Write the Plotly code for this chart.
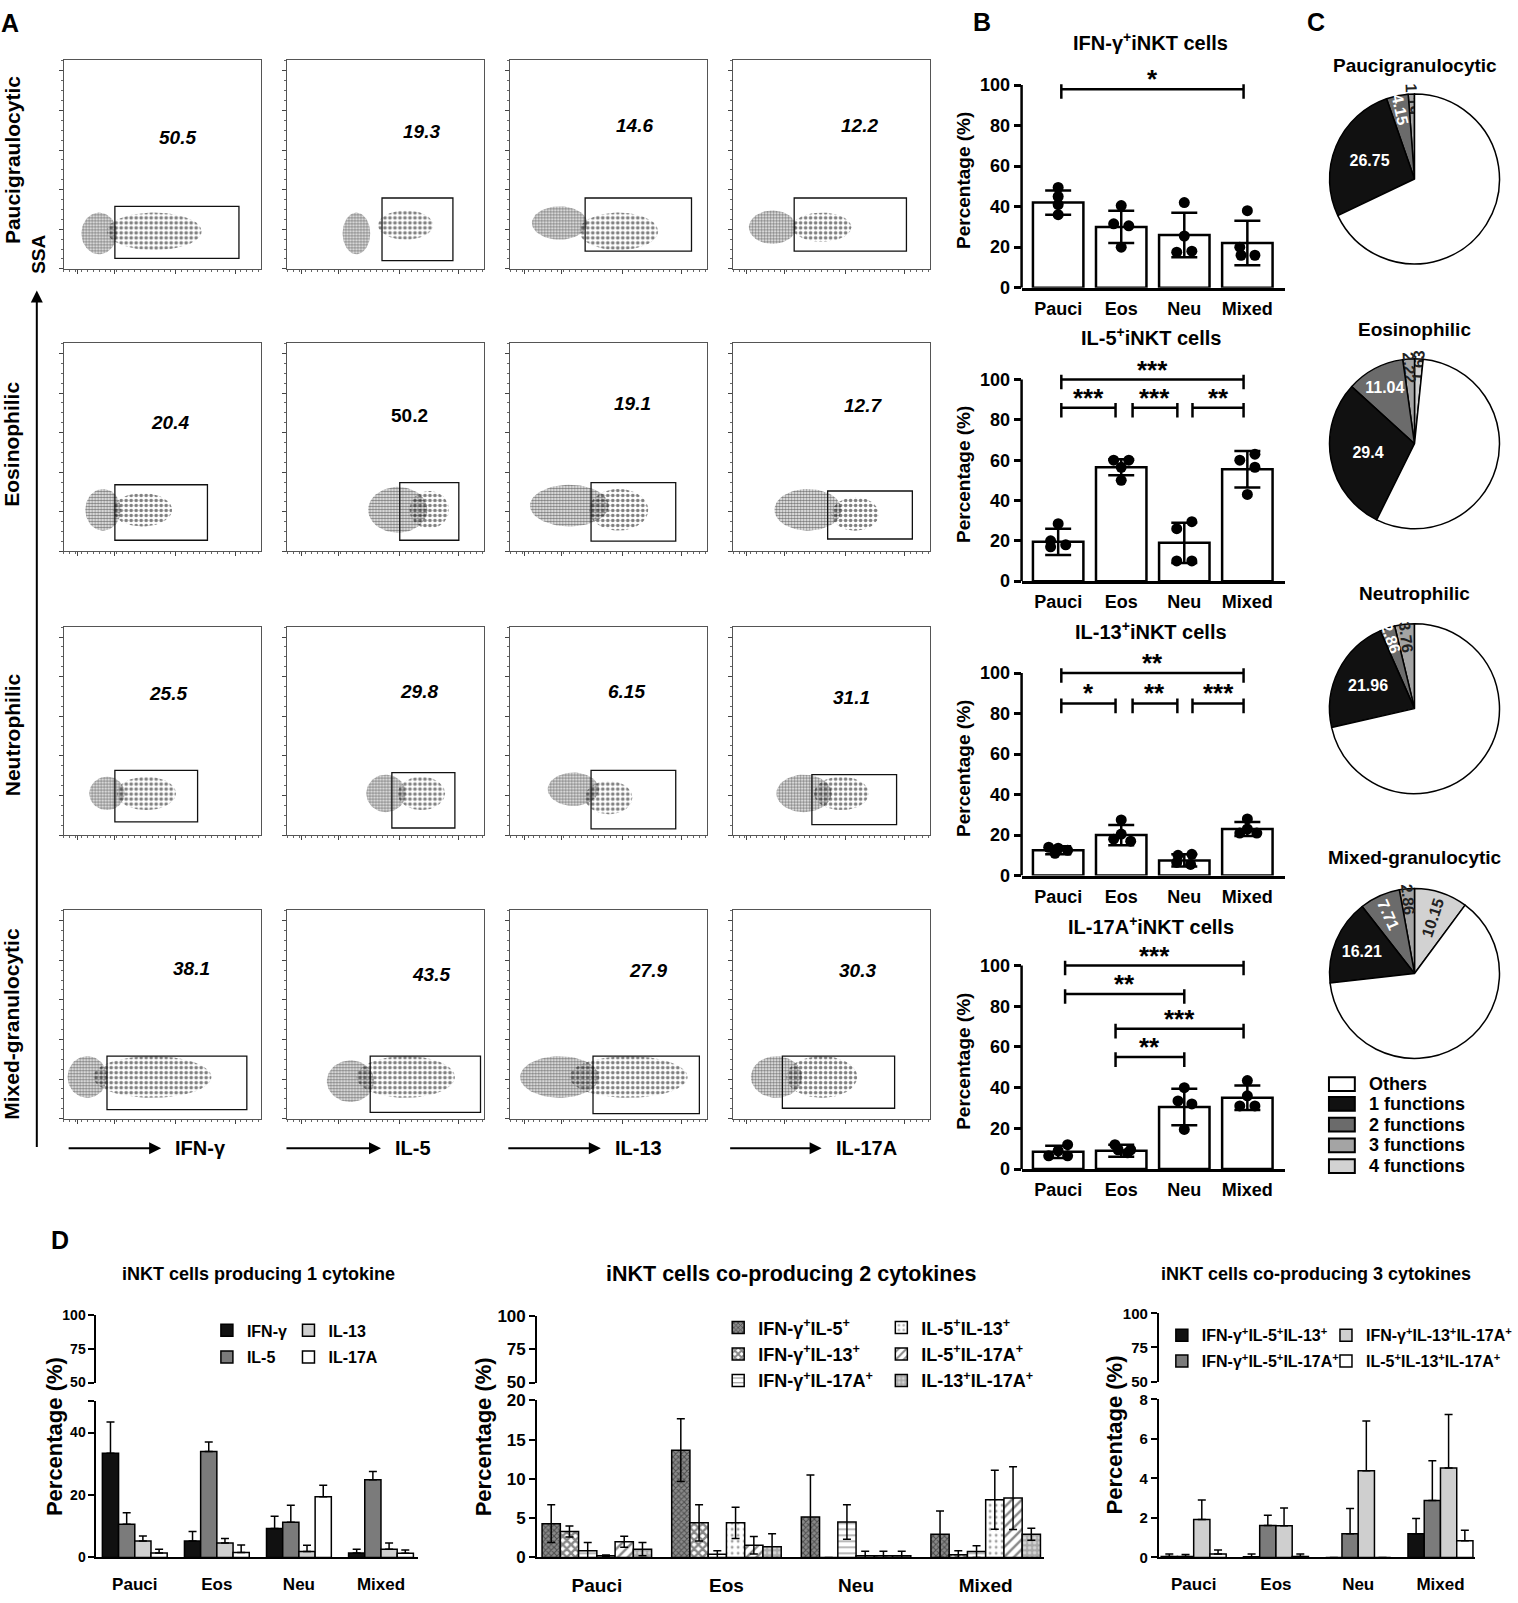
import numpy as np
import plotly.graph_objects as go

W, H = 1518, 1603
FONT = "Liberation Sans, Arial, sans-serif"

# ======================= DATA =======================
groups = ["Pauci", "Eos", "Neu", "Mixed"]

# ---- Panel A : flow cytometry (fractions of each plot frame) ----
row_names = ["Paucigraulocytic", "Eosinophilic", "Neutrophilic", "Mixed-granulocytic"]
cytokines = ["IFN-γ", "IL-5", "IL-13", "IL-17A"]
gate_pct = [["50.5", "19.3", "14.6", "12.2"],
            ["20.4", "50.2", "19.1", "12.7"],
            ["25.5", "29.8", "6.15", "31.1"],
            ["38.1", "43.5", "27.9", "30.3"]]
gate_x0 = [[0.26, 0.48, 0.38, 0.31], [0.26, 0.57, 0.41, 0.48], [0.26, 0.53, 0.41, 0.40], [0.22, 0.42, 0.42, 0.25]]
gate_x1 = [[0.89, 0.84, 0.92, 0.88], [0.73, 0.87, 0.84, 0.91], [0.68, 0.85, 0.84, 0.83], [0.93, 0.98, 0.96, 0.82]]
gate_y0 = [[0.05, 0.04, 0.085, 0.085], [0.054, 0.054, 0.05, 0.06], [0.063, 0.034, 0.03, 0.05], [0.043, 0.03, 0.024, 0.05]]
gate_y1 = [[0.30, 0.34, 0.34, 0.34], [0.32, 0.33, 0.33, 0.29], [0.31, 0.30, 0.31, 0.29], [0.30, 0.30, 0.30, 0.30]]
pct_x = [[0.58, 0.68, 0.63, 0.64], [0.54, 0.62, 0.62, 0.66], [0.53, 0.67, 0.59, 0.60], [0.65, 0.73, 0.70, 0.63]]
pct_y = [[0.63, 0.66, 0.69, 0.69], [0.62, 0.65, 0.71, 0.70], [0.68, 0.69, 0.69, 0.66], [0.72, 0.69, 0.71, 0.71]]
# event clouds: (centre x, centre y, half width, half height)
cloud_core = [[(0.18, 0.17, 0.09, 0.10), (0.35, 0.17, 0.07, 0.10), (0.25, 0.22, 0.14, 0.08), (0.20, 0.20, 0.12, 0.08)],
              [(0.20, 0.20, 0.09, 0.10), (0.56, 0.20, 0.15, 0.11), (0.30, 0.22, 0.20, 0.10), (0.38, 0.20, 0.17, 0.10)],
              [(0.22, 0.20, 0.09, 0.08), (0.50, 0.20, 0.10, 0.09), (0.32, 0.22, 0.13, 0.08), (0.36, 0.20, 0.14, 0.09)],
              [(0.12, 0.20, 0.10, 0.10), (0.32, 0.18, 0.12, 0.10), (0.25, 0.20, 0.20, 0.10), (0.22, 0.20, 0.13, 0.10)]]
cloud_tail = [[(0.46, 0.18, 0.24, 0.09), (0.60, 0.21, 0.14, 0.07), (0.55, 0.18, 0.20, 0.09), (0.45, 0.20, 0.15, 0.07)],
              [(0.40, 0.20, 0.15, 0.08), (0.72, 0.20, 0.10, 0.09), (0.55, 0.20, 0.15, 0.10), (0.62, 0.18, 0.12, 0.08)],
              [(0.42, 0.20, 0.15, 0.08), (0.68, 0.20, 0.12, 0.08), (0.50, 0.18, 0.12, 0.08), (0.55, 0.20, 0.14, 0.08)],
              [(0.45, 0.20, 0.30, 0.10), (0.60, 0.20, 0.25, 0.10), (0.60, 0.20, 0.30, 0.10), (0.45, 0.20, 0.18, 0.10)]]

# ---- Panel B ----
b_titles = ["IFN-γ<sup>+</sup>iNKT cells", "IL-5<sup>+</sup>iNKT cells",
            "IL-13<sup>+</sup>iNKT cells", "IL-17A<sup>+</sup>iNKT cells"]
b_mean = [[42, 30, 26, 22], [19.5, 56.5, 19, 55.5], [12.5, 20, 7.5, 23], [8.5, 9, 30.5, 35]]
b_sd = [[6, 8, 11, 11], [6.5, 4, 10, 9], [2, 5, 3, 3.5], [3, 3, 9, 6]]
b_dots = [
    [[49.5, 45, 41, 36], [40.5, 31.5, 30.5, 20], [42, 25.5, 17.5, 18], [38, 20, 16, 16]],
    [[28.5, 20, 17, 18], [60, 60, 56.5, 50], [29.5, 26, 10, 10], [63, 60, 56.5, 43]],
    [[14, 13.5, 12.5, 11], [27.5, 20.5, 18, 17], [10.5, 10, 6.5, 5.5], [28, 23, 21, 21]],
    [[12, 9, 6.5, 6.5], [12, 9.5, 9.5, 8], [40, 33.5, 32, 19.5], [43.5, 36, 31, 31]],
]
b_jit = [
    [[0, 0, 0, 0], [0, -0.12, 0.12, 0], [0, 0, -0.12, 0.12], [0, -0.12, -0.1, 0.12]],
    [[0, -0.12, -0.12, 0.12], [-0.12, 0.12, 0, 0], [0.12, -0.12, -0.12, 0.12], [0.12, -0.12, 0.12, 0]],
    [[-0.15, 0.0, 0.15, -0.05], [0, 0, -0.12, 0.15], [0.12, -0.1, -0.12, 0.1], [0, 0, -0.12, 0.15]],
    [[0.15, 0, -0.15, 0.15], [-0.1, 0.15, -0.05, 0.1], [0, -0.1, 0.12, 0], [0, 0, -0.12, 0.12]],
]
b_br_x0 = [[0.05], [0.05, 0.05, 1.18, 2.13], [0.05, 0.05, 1.18, 2.13], [0.11, 0.11, 0.91, 0.91]]
b_br_x1 = [[2.94], [2.94, 0.91, 1.89, 2.94], [2.94, 0.91, 1.89, 2.94], [2.94, 2.0, 2.94, 2.0]]
b_br_y = [[98], [100, 86, 86, 86], [100, 85, 85, 85], [100, 86, 69, 55]]
b_br_lab = [["*"], ["***", "***", "***", "**"], ["**", "*", "**", "***"], ["***", "**", "***", "**"]]

# ---- Panel C ----
c_titles = ["Paucigranulocytic", "Eosinophilic", "Neutrophilic", "Mixed-granulocytic"]
c_labels = ["4 functions", "3 functions", "2 functions", "1 functions", "Others"]
c_values = [[0, 1.19, 4.15, 26.75, 67.91],
            [1.63, 2.22, 11.04, 29.4, 55.71],
            [0, 3.76, 2.86, 21.96, 71.42],
            [10.15, 2.86, 7.71, 16.21, 63.07]]
c_legend = ["Others", "1 functions", "2 functions", "3 functions", "4 functions"]

# ---- Panel D ----
d_titles = ["iNKT cells producing 1 cytokine", "iNKT cells co-producing 2 cytokines",
            "iNKT cells co-producing 3 cytokines"]
d1_names = ["IFN-γ", "IL-5", "IL-13", "IL-17A"]
d1_mean = [[33.4, 5.3, 9.3, 1.4], [10.6, 33.9, 11.3, 24.9], [5.3, 4.6, 1.9, 2.6], [1.4, 1.6, 19.4, 1.3]]
d1_sd = [[10.0, 3.0, 3.9, 1.2], [3.7, 3.1, 5.4, 2.6], [1.6, 1.5, 2.0, 2.0], [1.2, 2.4, 3.7, 1.1]]
d2_names = ["IFN-γ<sup>+</sup>IL-5<sup>+</sup>", "IFN-γ<sup>+</sup>IL-13<sup>+</sup>",
            "IFN-γ<sup>+</sup>IL-17A<sup>+</sup>", "IL-5<sup>+</sup>IL-13<sup>+</sup>",
            "IL-5<sup>+</sup>IL-17A<sup>+</sup>", "IL-13<sup>+</sup>IL-17A<sup>+</sup>"]
d2_mean = [[4.3, 13.65, 5.15, 2.95], [3.3, 4.4, 0.0, 0.35], [0.85, 0.4, 4.5, 0.75],
           [0.2, 4.4, 0.2, 7.35], [2.0, 1.55, 0.2, 7.55], [1.05, 1.35, 0.2, 2.95]]
d2_sd = [[2.4, 4.0, 5.35, 2.95], [0.7, 2.3, 0.0, 0.5], [1.05, 0.45, 2.2, 0.75],
         [0.1, 2.0, 0.6, 3.75], [0.7, 1.1, 0.6, 4.0], [0.85, 1.65, 0.6, 0.75]]
d3_names = ["IFN-γ<sup>+</sup>IL-5<sup>+</sup>IL-13<sup>+</sup>", "IFN-γ<sup>+</sup>IL-5<sup>+</sup>IL-17A<sup>+</sup>",
            "IFN-γ<sup>+</sup>IL-13<sup>+</sup>IL-17A<sup>+</sup>", "IL-5<sup>+</sup>IL-13<sup>+</sup>IL-17A<sup>+</sup>"]
d3_mean = [[0.05, 0.03, 0.0, 1.2], [0.05, 1.62, 1.2, 2.88], [1.92, 1.6, 4.38, 4.52], [0.17, 0.05, 0.0, 0.84]]
d3_sd = [[0.12, 0.14, 0.0, 0.77], [0.1, 0.52, 1.28, 2.01], [0.98, 0.9, 2.52, 2.71], [0.21, 0.12, 0.0, 0.53]]

# ======================= FIGURE =======================
fig = go.Figure()
layout = {}
shapes = []
annotations = []
n_ax = [0]


def X(px):
    return px / W


def Y(py):
    return 1 - py / H


def new_axes(x0, x1, y0, y1, xkw, ykw):
    n_ax[0] += 1
    k = n_ax[0]
    s = '' if k == 1 else str(k)
    layout['xaxis' + s] = dict(domain=[X(x0), X(x1)], anchor='y' + s, showgrid=False, zeroline=False,
                               fixedrange=True, **xkw)
    layout['yaxis' + s] = dict(domain=[Y(y1), Y(y0)], anchor='x' + s, showgrid=False, zeroline=False,
                               fixedrange=True, **ykw)
    return 'x' + s, 'y' + s


def ann(xpx, ypx, text, size, xanchor='center', yanchor='middle', angle=0, yshift=0):
    annotations.append(dict(x=X(xpx), y=Y(ypx), xref='paper', yref='paper', text=text, showarrow=False,
                            xanchor=xanchor, yanchor=yanchor, textangle=angle, yshift=yshift,
                            font=dict(family=FONT, size=size, color='black', weight='bold')))


# ---------------- Panel A ----------------
flow_left = [64, 289, 513, 737]
flow_w = 198
flow_top = [52, 338, 625, 912]
flow_h = 211
fx = dict(range=[0, 1], showline=True, mirror=True, linecolor='#555', linewidth=1, ticks='outside',
          ticklen=4, tickcolor='#444', tickvals=[0.07, 0.26, 0.57, 0.87], showticklabels=False,
          minor=dict(ticks='outside', ticklen=2, dtick=0.03, tickcolor='#666'))
fy = dict(range=[0, 1], showline=True, mirror=True, linecolor='#555', linewidth=1, ticks='outside',
          ticklen=4, tickcolor='#444', tickvals=[0, 0.19, 0.38, 0.57, 0.76, 0.95], showticklabels=False,
          minor=dict(ticks='outside', ticklen=2, dtick=0.0475, tickcolor='#666'))
theta = np.linspace(0, 2 * np.pi, 64)
for r in range(4):
    for c in range(4):
        xa, ya = new_axes(flow_left[c], flow_left[c] + flow_w, flow_top[r], flow_top[r] + flow_h, fx, fy)
        for (cx, cy, rx, ry), sol, sz in ((cloud_tail[r][c], 0.42, 5), (cloud_core[r][c], 0.6, 3)):
            fig.add_trace(go.Scatter(
                x=cx + rx * np.cos(theta), y=cy + ry * np.sin(theta), mode='lines', fill='toself',
                line=dict(width=0), fillcolor='rgba(0,0,0,0)',
                fillpattern=dict(shape='.', fgcolor='#000', bgcolor='rgba(0,0,0,0)', size=sz, solidity=sol),
                xaxis=xa, yaxis=ya, showlegend=False, hoverinfo='skip'))
        shapes.append(dict(type='rect', xref=xa, yref=ya, x0=gate_x0[r][c], x1=gate_x1[r][c],
                           y0=gate_y0[r][c], y1=gate_y1[r][c], line=dict(color='#111', width=1.3)))
        txt = gate_pct[r][c] if (r, c) == (1, 1) else '<i>' + gate_pct[r][c] + '</i>'
        annotations.append(dict(x=pct_x[r][c], y=pct_y[r][c], xref=xa, yref=ya, text=txt, showarrow=False,
                                font=dict(family=FONT, size=19, color='black', weight='bold')))

row_cy = [153, 440, 734, 1027]
for r in range(4):
    ann(12, row_cy[r], row_names[r], 21, angle=-90)
ann(38, 248, "SSA", 19, angle=-90)
annotations.append(dict(x=X(37), y=Y(285), xref='paper', yref='paper', ax=0, ay=858, showarrow=True,
                        arrowhead=2, arrowsize=1.2, arrowwidth=2, arrowcolor='black', text=''))
arrow_x0 = [68, 287, 510, 733]
arrow_x1 = [162, 383, 604, 826]
for c in range(4):
    annotations.append(dict(x=X(arrow_x1[c]), y=Y(1153), xref='paper', yref='paper',
                            ax=-(arrow_x1[c] - arrow_x0[c]), ay=0, showarrow=True, arrowhead=2,
                            arrowsize=1.2, arrowwidth=2, arrowcolor='black', text=''))
    ann(arrow_x1[c] + 12, 1153, cytokines[c], 20, xanchor='left')

# ---------------- Panel B ----------------
b_top100 = [77, 375, 672, 968]
b_zero = [282, 579, 877, 1174]
b_title_y = [33, 331, 629, 927]
bx = dict(range=[-0.58, 3.6], tickvals=[0, 1, 2, 3], ticktext=groups, showline=True, linewidth=2.5,
          linecolor='black', ticks='', ticklabelstandoff=3,
          tickfont=dict(family=FONT, size=18, color='black', weight='bold'))
for k in range(4):
    ppu = (b_zero[k] - b_top100[k]) / 100.0
    ytop = b_zero[k] - 106 * ppu
    by = dict(range=[0, 106], tickvals=[0, 20, 40, 60, 80, 100], ticks='outside', ticklen=7, tickwidth=2.5,
              tickcolor='black', showline=False,
              tickfont=dict(family=FONT, size=18, color='black', weight='bold'),
              title=dict(text="Percentage (%)", standoff=4,
                         font=dict(family=FONT, size=19, color='black', weight='bold')))
    xa, ya = new_axes(1027, 1292, ytop, b_zero[k], bx, by)
    shapes.append(dict(type='line', xref=xa + ' domain', yref=ya, x0=0, x1=0, y0=0, y1=100,
                       line=dict(color='black', width=2.5)))
    fig.add_trace(go.Bar(x=[0, 1, 2, 3], y=b_mean[k], width=0.8, xaxis=xa, yaxis=ya, showlegend=False,
                         marker=dict(color='white', line=dict(color='black', width=2.5)),
                         error_y=dict(type='data', array=b_sd[k], color='black', thickness=2.5, width=13),
                         hoverinfo='skip'))
    dx, dy = [], []
    for g in range(4):
        for j in range(4):
            dx.append(g + b_jit[k][g][j])
            dy.append(b_dots[k][g][j])
    fig.add_trace(go.Scatter(x=dx, y=dy, mode='markers', marker=dict(color='black', size=11),
                             xaxis=xa, yaxis=ya, showlegend=False, hoverinfo='skip'))
    for i in range(len(b_br_y[k])):
        x0, x1, yv = b_br_x0[k][i], b_br_x1[k][i], b_br_y[k][i]
        shapes.append(dict(type='line', xref=xa, yref=ya, x0=x0, x1=x1, y0=yv, y1=yv,
                           line=dict(color='black', width=2.5)))
        for xe in (x0, x1):
            shapes.append(dict(type='line', xref=xa, yref=ya, x0=xe, x1=xe, y0=yv - 4.8, y1=yv + 2.4,
                               line=dict(color='black', width=2.5)))
        annotations.append(dict(x=(x0 + x1) / 2, y=yv, xref=xa, yref=ya, text=b_br_lab[k][i],
                                showarrow=False, yanchor='middle', yshift=10,
                                font=dict(family=FONT, size=26, color='black', weight='bold')))
    ann(1157, b_title_y[k], b_titles[k], 20)

# ---------------- Panel C ----------------
c_colors = ['#d2d2d2', '#a4a4a4', '#6b6b6b', '#111111', '#ffffff']
c_text_col = ['#222', '#222', 'white', 'white', 'white']
pie_cx, pie_r = 1422, 86
pie_cy = [172, 440, 708, 976]
pie_title_y = [57, 324, 592, 859]
for k in range(4):
    texts = [("%g" % v if (v > 0 and i < 4) else "") for i, v in enumerate(c_values[k])]
    fig.add_trace(go.Pie(values=c_values[k], labels=c_labels, sort=False, direction='counterclockwise',
                         rotation=0, text=texts, textinfo='text', textposition='inside',
                         insidetextorientation='auto',
                         textfont=dict(family=FONT, size=16, color=c_text_col, weight='bold'),
                         marker=dict(colors=c_colors, line=dict(color='black', width=1.5)),
                         domain=dict(x=[X(pie_cx - pie_r), X(pie_cx + pie_r)],
                                     y=[Y(pie_cy[k] + pie_r), Y(pie_cy[k] - pie_r)]),
                         showlegend=False, hoverinfo='skip'))
    ann(pie_cx, pie_title_y[k], c_titles[k], 19)
leg_colors = {lab: col for lab, col in zip(c_labels, c_colors)}
leg_y = [1088, 1108, 1129, 1150, 1171]
for i, lab in enumerate(c_legend):
    shapes.append(dict(type='rect', xref='paper', yref='paper', x0=X(1336), x1=X(1362),
                       y0=Y(leg_y[i] + 7), y1=Y(leg_y[i] - 7), fillcolor=leg_colors[lab],
                       line=dict(color='black', width=2)))
    ann(1374, leg_y[i], lab, 18, xanchor='left')

# ---------------- Panel D ----------------
d1_style = [dict(color='#111111'), dict(color='#7b7b7b'), dict(color='#cfcfcf'), dict(color='#ffffff')]
d2_style = [
    dict(color='#8a8a8a', pattern=dict(shape='x', size=4, solidity=0.45, fgcolor='#111', fillmode='overlay')),
    dict(color='#ffffff', pattern=dict(shape='x', size=6, solidity=0.65, fgcolor='#111', fillmode='overlay')),
    dict(color='#ffffff', pattern=dict(shape='-', size=6, solidity=0.2, fgcolor='#111', fillmode='overlay')),
    dict(color='#ffffff', pattern=dict(shape='.', size=6, solidity=0.18, fgcolor='#444', fillmode='overlay')),
    dict(color='#ffffff', pattern=dict(shape='/', size=7, solidity=0.35, fgcolor='#111', fillmode='overlay')),
    dict(color='#a8a8a8', pattern=dict(shape='.', size=5, solidity=0.4, fgcolor='#ffffff', fillmode='overlay')),
]
d_panels = [
    dict(names=d1_names, mean=d1_mean, sd=d1_sd, sym=False, style=d1_style,
         x0=97, x1=420, c0=135.5, step=82.5, up=(1322, 1390), low=(1409, 1567), ymax=50,
         ticks=[0, 20, 40, 50], labels=['0', '20', '40', ''], gw=0.79, ytx=55, tx=260,
         cols=[(230, [0, 1]), (312, [2, 3])], ly=1332,
         tsize=18, csize=17, ksize=14, lsize=16, lgap=3),
    dict(names=d2_names, mean=d2_mean, sd=d2_sd, sym=True, style=d2_style,
         x0=540, x1=1050, c0=600, step=130.3, up=(1323, 1390), low=(1408, 1567), ymax=20,
         ticks=[0, 5, 10, 15, 20], labels=['0', '5', '10', '15', '20'], gw=0.845, ytx=486, tx=795,
         cols=[(744, [0, 1, 2]), (908, [3, 4, 5])], ly=1328,
         tsize=21.5, csize=19, ksize=17, lsize=18, lgap=0),
    dict(names=d3_names, mean=d3_mean, sd=d3_sd, sym=False, style=d1_style,
         x0=1165, x1=1483, c0=1200, step=82.7, up=(1320, 1389), low=(1407, 1567), ymax=8,
         ticks=[0, 2, 4, 6, 8], labels=['0', '2', '4', '6', '8'], gw=0.79, ytx=1120, tx=1323,
         cols=[(1190, [0, 1]), (1355, [2, 3])], ly=1337,
         tsize=18, csize=17, ksize=15, lsize=16, lgap=2),
]
leg_n = 0
for p_i, P in enumerate(d_panels):
    tick_font = dict(family=FONT, size=P['ksize'], color='black', weight='bold')
    xr = [(P['x0'] - P['c0']) / P['step'], (P['x1'] - P['c0']) / P['step']]
    dxk = dict(range=xr, tickvals=[0, 1, 2, 3], ticktext=groups, showline=True, linewidth=2,
               linecolor='black', ticks='', ticklabelstandoff=10,
               tickfont=dict(family=FONT, size=P['csize'], color='black', weight='bold'))
    dyk = dict(range=[0, P['ymax']], tickvals=P['ticks'], ticktext=P['labels'], showline=True, linewidth=2,
               linecolor='black', ticks='outside', ticklen=6, tickwidth=2, tickcolor='black', tickfont=tick_font)
    xa, ya = new_axes(P['x0'], P['x1'], P['low'][0], P['low'][1], dxk, dyk)
    uxk = dict(range=xr, showline=False, showticklabels=False, ticks='')
    uyk = dict(range=[50, 100], tickvals=[50, 75, 100], showline=True, linewidth=2, linecolor='black',
               ticks='outside', ticklen=6, tickwidth=2, tickcolor='black', tickfont=tick_font)
    uxa, uya = new_axes(P['x0'], P['x1'], P['up'][0], P['up'][1], uxk, uyk)
    fig.add_trace(go.Scatter(x=[None], y=[None], xaxis=uxa, yaxis=uya, mode='markers',
                             showlegend=False, hoverinfo='skip'))
    ns = len(P['names'])
    bw = P['gw'] / ns
    leg_of = {}
    for ci, (sx, members) in enumerate(P['cols']):
        leg_n += 1
        lname = 'legend' if leg_n == 1 else 'legend%d' % leg_n
        layout[lname] = dict(x=X(sx - 22), y=Y(P['ly'] - 12), xanchor='left', yanchor='top',
                             bgcolor='rgba(0,0,0,0)', borderwidth=0, tracegroupgap=P['lgap'], itemwidth=30,
                             font=dict(family=FONT, size=P['lsize'], color='black', weight='bold'))
        for m in members:
            leg_of[m] = lname
    for s in range(ns):
        st = P['style'][s]
        marker = dict(color=st['color'], line=dict(color='black', width=1.5))
        if 'pattern' in st:
            marker['pattern'] = st['pattern']
        if P['sym']:
            err = dict(type='data', array=P['sd'][s], color='black', thickness=1.5, width=4)
        else:
            err = dict(type='data', symmetric=False, array=P['sd'][s], arrayminus=[0] * 4,
                       color='black', thickness=1.5, width=4)
        fig.add_trace(go.Bar(x=[0, 1, 2, 3], y=P['mean'][s], width=bw, offset=-P['gw'] / 2 + s * bw,
                             name=P['names'][s], marker=marker, error_y=err, xaxis=xa, yaxis=ya,
                             legend=leg_of[s], legendgroup='d%d_%d' % (p_i, s), showlegend=True,
                             hoverinfo='skip'))
    ann(P['ytx'], (P['up'][0] + P['low'][1]) / 2, "Percentage (%)", 22, angle=-90)
    ann(P['tx'], 1280, d_titles[p_i], P['tsize'])

# panel letters
ann(10, 14, "A", 25)
ann(987, 13, "B", 25)
ann(1323, 13, "C", 25)
ann(60, 1246, "D", 25)

fig.update_layout(width=W, height=H, margin=dict(l=0, r=0, t=0, b=0), paper_bgcolor='white',
                  plot_bgcolor='white', barmode='overlay', hovermode=False, showlegend=True,
                  uniformtext=dict(minsize=15, mode='show'),
                  font=dict(family=FONT, color='black'),
                  shapes=shapes, annotations=annotations, **layout)
fig.write_html("out.html", config={'displayModeBar': False},
               post_script="document.body.style.margin='0';")
